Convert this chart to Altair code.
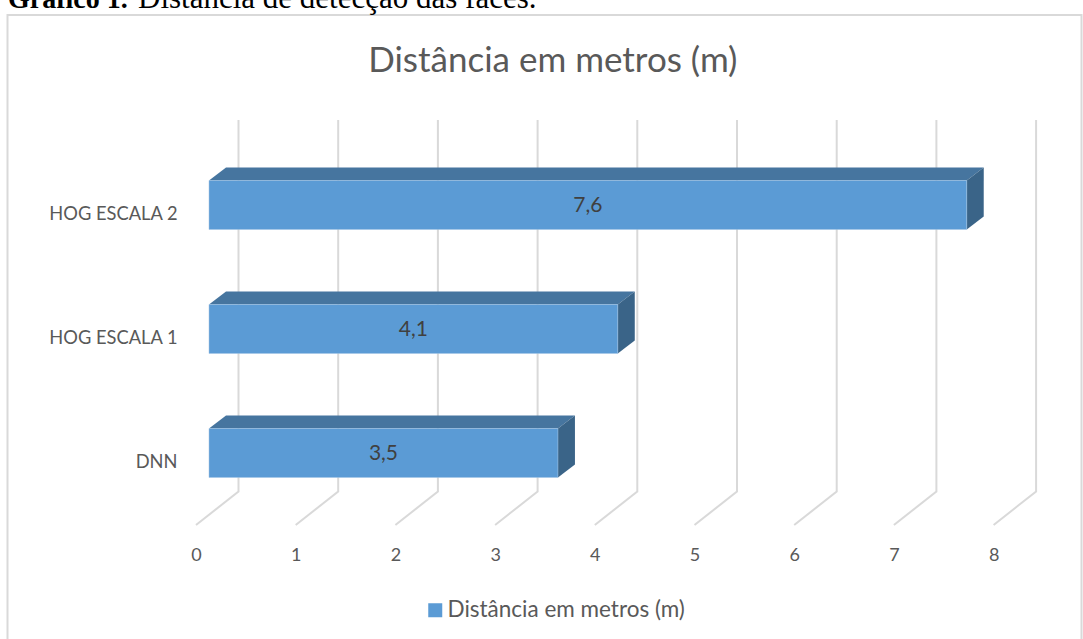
import altair as alt
import pandas as pd

categories = ["DNN", "HOG ESCALA 1", "HOG ESCALA 2"]
values = [3.5, 4.1, 7.6]
slots = [0, 1, 2]
axis_ticks = [0, 1, 2, 3, 4, 5, 6, 7, 8]
series_name = "Distância em metros (m)"

# Pseudo-3D geometry: x in axis units, y in category slots measured from the front floor edge.
PX_X = 99.7
PX_Y = 124.0
BAR_BASE = 13 / PX_X
BAR_LOW = 47.5 / PX_Y
BAR_HEIGHT = 49 / PX_Y
DEPTH_X = 17 / PX_X
DEPTH_Y = 13 / PX_Y
WALL_X = 42.5 / PX_X
WALL_Y = 33.5 / PX_Y
TOP = 405 / PX_Y

FRONT = "#5B9BD5"
TOP_FACE = "#46759F"
SIDE_FACE = "#3A6488"
GRID = "#D9D9D9"
TEXT = "#595959"
FONT = "Lato"

x_scale = alt.Scale(domain=[0, 8], nice=False, zero=False)
y_scale = alt.Scale(domain=[0, TOP], nice=False, zero=False)


def at_x(px):
    return alt.X(datum=px / PX_X, scale=x_scale, title=None)


def at_y(px):
    return alt.Y(datum=px / PX_Y, scale=y_scale, title=None)


bars = pd.DataFrame({"categoria": categories, "valor": values, "slot": slots})
bars["serie"] = series_name
bars["x0"] = BAR_BASE
bars["x1"] = bars["valor"] + BAR_BASE
bars["y0"] = bars["slot"] + BAR_LOW
bars["y1"] = bars["y0"] + BAR_HEIGHT
bars["xm"] = (bars["x0"] + bars["x1"]) / 2
bars["ym"] = (bars["y0"] + bars["y1"]) / 2
bars["rotulo"] = [f"{v:.1f}".replace(".", ",") for v in values]

# Gridlines: floor diagonal followed by the vertical on the back wall.
grid_rows = []
for t in axis_ticks:
    grid_rows += [
        {"t": t, "o": 0, "x": t, "y": 0},
        {"t": t, "o": 1, "x": t + WALL_X, "y": WALL_Y},
        {"t": t, "o": 2, "x": t + WALL_X, "y": TOP},
    ]
grid_df = pd.DataFrame(grid_rows)

# Top and side faces of each bar, as areas between a lower and an upper edge.
top_rows, side_rows = [], []
for row in bars.itertuples():
    yf, yb = row.y1, row.y1 + DEPTH_Y
    top_rows += [
        {"c": row.categoria, "x": row.x0, "lo": yf, "hi": yf},
        {"c": row.categoria, "x": row.x0 + DEPTH_X, "lo": yf, "hi": yb},
        {"c": row.categoria, "x": row.x1, "lo": yf, "hi": yb},
        {"c": row.categoria, "x": row.x1 + DEPTH_X, "lo": yb, "hi": yb},
    ]
    side_rows += [
        {"c": row.categoria, "x": row.x1, "lo": row.y0, "hi": row.y1},
        {"c": row.categoria, "x": row.x1 + DEPTH_X, "lo": row.y0 + DEPTH_Y, "hi": yb},
    ]
top_df = pd.DataFrame(top_rows)
side_df = pd.DataFrame(side_rows)

x_axis = alt.Axis(
    values=axis_ticks, grid=False, domain=False, ticks=False, format="d",
    labelFont=FONT, labelFontSize=18, labelColor=TEXT, labelPadding=21,
    labelAngle=0, labelFlush=False,
)
y_axis = alt.Axis(
    values=[s + 0.508 for s in slots], grid=False, domain=False, ticks=False,
    labelFont=FONT, labelFontSize=18.3, labelColor=TEXT, labelPadding=19,
    labelExpr="['DNN','HOG ESCALA 1','HOG ESCALA 2'][floor(datum.value)]",
)

one = pd.DataFrame({"k": [0]})

frame = alt.Chart(one).mark_rect(fillOpacity=0, stroke=GRID, strokeWidth=2).encode(
    x=at_x(-188.5), x2=alt.X2(datum=885.5 / PX_X),
    y=at_y(510), y2=alt.Y2(datum=-135 / PX_Y),
)

grid = alt.Chart(grid_df).mark_line(color=GRID, strokeWidth=2, strokeJoin="miter").encode(
    x=alt.X("x:Q", scale=x_scale, axis=x_axis, title=None),
    y=alt.Y("y:Q", scale=y_scale, axis=y_axis, title=None),
    detail="t:N",
    order="o:Q",
)

top_face = alt.Chart(top_df).mark_area(color=TOP_FACE, interpolate="linear").encode(
    x=alt.X("x:Q", scale=x_scale, title=None),
    y=alt.Y("lo:Q", scale=y_scale, title=None),
    y2="hi:Q",
    detail="c:N",
)
side_face = alt.Chart(side_df).mark_area(color=SIDE_FACE, interpolate="linear").encode(
    x=alt.X("x:Q", scale=x_scale, title=None),
    y=alt.Y("lo:Q", scale=y_scale, title=None),
    y2="hi:Q",
    detail="c:N",
)
front_face = alt.Chart(bars).mark_rect(stroke="#A3C5E6", strokeWidth=1, strokeOpacity=0.5).encode(
    x=alt.X("x0:Q", scale=x_scale, title=None),
    x2="x1:Q",
    y=alt.Y("y0:Q", scale=y_scale, title=None),
    y2="y1:Q",
    color=alt.Color(
        "serie:N",
        scale=alt.Scale(domain=[series_name], range=[FRONT]),
        legend=alt.Legend(
            orient="none", legendX=228, legendY=479, title=None,
            symbolType="square", symbolSize=196, symbolStrokeWidth=0, labelLimit=400,
            labelFont=FONT, labelFontSize=22.5, labelColor=TEXT, labelOffset=1,
        ),
    ),
)
value_labels = alt.Chart(bars).mark_text(font=FONT, fontSize=21, color="#404040", dy=1).encode(
    x=alt.X("xm:Q", scale=x_scale, title=None),
    y=alt.Y("ym:Q", scale=y_scale, title=None),
    text="rotulo:N",
)

caption_bold = alt.Chart(one).mark_text(
    text="Gráfico 1.", font="Liberation Serif", fontWeight="bold", fontSize=28,
    color="black", align="left", baseline="alphabetic",
).encode(x=at_x(-188), y=at_y(517))
caption = alt.Chart(one).mark_text(
    text="Distância de detecção das faces.", font="Liberation Serif", fontSize=31,
    color="black", align="left", baseline="alphabetic",
).encode(x=at_x(-58), y=at_y(517))

chart = alt.layer(
    grid, top_face, side_face, front_face, value_labels, frame, caption_bold, caption
).properties(
    width=797.6,
    height=405,
    padding={"left": 196, "top": 120, "right": 89.4, "bottom": 114},
    autosize=alt.AutoSizeParams(type="none"),
    title=alt.TitleParams(
        series_name, font=FONT, fontSize=35, fontWeight="normal", color=TEXT,
        anchor="middle", dx=-42, dy=101, offset=5,
    ),
    background="white",
).configure_view(stroke=None)

chart.save("out.html", embed_options={"renderer": "svg", "actions": False})
